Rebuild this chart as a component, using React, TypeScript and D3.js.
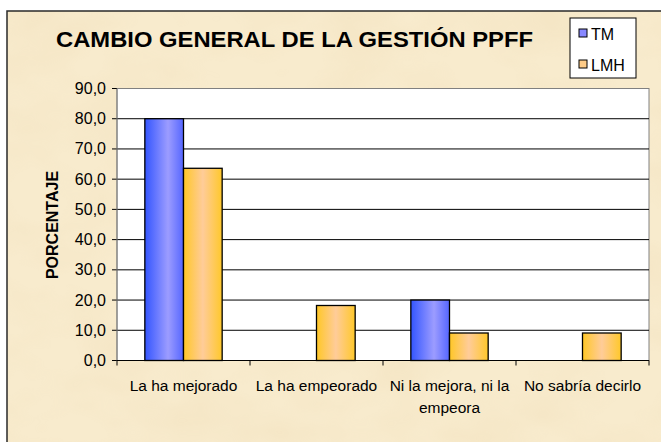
import React from "react";
import * as d3 from "d3";

const categories: string[][] = [
  ["La ha mejorado"],
  ["La ha empeorado"],
  ["Ni la mejora, ni la", "empeora"],
  ["No sabría decirlo"],
];
const seriesNames = ["TM", "LMH"];
const tmValues = [80.0, 0.0, 20.0, 0.0];
const lmhValues = [63.6, 18.2, 9.1, 9.1];
const yTicks = [0, 10, 20, 30, 40, 50, 60, 70, 80, 90];

const W = 661;
const H = 442;
const plot = { left: 117, right: 649, top: 88.5, bottom: 360.5 };

export default function App() {
  const x0 = d3
    .scaleBand<number>()
    .domain(categories.map((_, i) => i))
    .range([plot.left, plot.right])
    .paddingInner(0)
    .paddingOuter(0);
  const x1 = d3
    .scaleBand<string>()
    .domain(seriesNames)
    .range([0, x0.bandwidth()])
    .paddingOuter(0.72)
    .paddingInner(0);
  const y = d3.scaleLinear().domain([0, 90]).range([plot.bottom, plot.top]);
  const series = [tmValues, lmhValues];
  const grads = ["gBlue", "gOrange"];
  const swatch = ["#8888ff", "#ffcc88"];
  const font = "'Liberation Sans', Arial, sans-serif";

  return (
    <svg
      width={W}
      height={H}
      style={{ position: "absolute", left: 0, top: 0 }}
      fontFamily={font}
    >
      <defs>
        <linearGradient id="gBlue" x1="0" x2="1" y1="0" y2="0">
          <stop offset="0" stopColor="#3355ff" />
          <stop offset="0.6" stopColor="#9c9cff" />
          <stop offset="1" stopColor="#5566ff" />
        </linearGradient>
        <linearGradient id="gOrange" x1="0" x2="1" y1="0" y2="0">
          <stop offset="0" stopColor="#ffc726" />
          <stop offset="0.5" stopColor="#ffcc99" />
          <stop offset="1" stopColor="#ffc82a" />
        </linearGradient>
        <filter id="parch" x="0" y="0" width="100%" height="100%">
          <feTurbulence type="fractalNoise" baseFrequency="0.012 0.02" numOctaves="3" seed="4" result="n" />
          <feColorMatrix
            in="n"
            type="matrix"
            values="0 0 0 0 0.85  0 0 0 0 0.70  0 0 0 0 0.45  0 0 0 -1.6 1.0"
          />
        </filter>
        <clipPath id="ytClip">
          <rect x={30} y={164} width={40} height={140} />
        </clipPath>
      </defs>
      <rect x={0} y={0} width={W} height={H} fill="#ffffff" />
      <rect x={7} y={11} width={W} height={H} fill="#f8ebcd" />
      <rect x={7} y={11} width={W} height={H} filter="url(#parch)" opacity={0.35} />
      <rect x={7} y={11} width={W + 10} height={H + 10} fill="none" stroke="#2a2a2a" strokeWidth={1.5} />

      <text x={56} y={47} fontSize={22} fontWeight="bold" fill="#000" textLength={477} lengthAdjust="spacingAndGlyphs">
        CAMBIO GENERAL DE LA GESTIÓN PPFF
      </text>

      {/* plot area */}
      <rect
        x={plot.left}
        y={plot.top}
        width={plot.right - plot.left}
        height={plot.bottom - plot.top}
        fill="#ffffff"
        stroke="#808080"
        strokeWidth={1}
      />
      {yTicks.map((t) => (
        <g key={t}>
          {t > 0 && t < 90 && (
            <line x1={plot.left} x2={plot.right} y1={y(t)} y2={y(t)} stroke="#000" strokeWidth={1} />
          )}
          <line x1={plot.left - 5} x2={plot.left} y1={y(t)} y2={y(t)} stroke="#000" strokeWidth={1} />
          <text x={106} y={y(t) + 5.5} fontSize={16} textAnchor="end" fill="#000">
            {d3.format(".1f")(t).replace(".", ",")}
          </text>
        </g>
      ))}

      {/* bars */}
      {series.map((vals, si) =>
        vals.map((v, ci) =>
          v > 0 ? (
            <rect
              key={`${si}-${ci}`}
              x={(x0(ci) as number) + (x1(seriesNames[si]) as number)}
              y={y(v)}
              width={x1.bandwidth()}
              height={y(0) - y(v)}
              fill={`url(#${grads[si]})`}
              stroke="#000"
              strokeWidth={1.3}
            />
          ) : null
        )
      )}

      {/* axes lines */}
      <line x1={plot.left} x2={plot.left} y1={plot.top} y2={plot.bottom} stroke="#808080" strokeWidth={1} />
      <line x1={plot.left} x2={plot.right} y1={plot.bottom} y2={plot.bottom} stroke="#000" strokeWidth={1} />
      {categories.map((_, i) => (
        <line
          key={i}
          x1={x0(i) as number}
          x2={x0(i) as number}
          y1={plot.bottom}
          y2={plot.bottom + 5}
          stroke="#000"
        />
      ))}
      <line x1={plot.right} x2={plot.right} y1={plot.bottom} y2={plot.bottom + 5} stroke="#000" />

      {categories.map((lines, i) => (
        <text
          key={i}
          x={(x0(i) as number) + x0.bandwidth() / 2}
          y={390.5}
          fontSize={15.5}
          textAnchor="middle"
          fill="#000"
        >
          {lines.map((l, j) => (
            <tspan key={j} x={(x0(i) as number) + x0.bandwidth() / 2} dy={j === 0 ? 0 : 22}>
              {l}
            </tspan>
          ))}
        </text>
      ))}

      <g clipPath="url(#ytClip)">
        <text
          transform={`translate(57.5,225) rotate(-90)`}
          fontSize={16}
          fontWeight="bold"
          textAnchor="middle"
          fill="#000"
        >
          PORCENTAJE
        </text>
      </g>

      {/* legend */}
      <rect x={570} y={18} width={66} height={60} fill="#ffffff" stroke="#000" strokeWidth={1} />
      {seriesNames.map((s, i) => (
        <g key={s}>
          <rect x={579} y={29 + i * 31} width={8} height={8} fill={swatch[i]} stroke="#000" strokeWidth={1} />
          <text x={591} y={39.5 + i * 31} fontSize={16} fill="#000">
            {s}
          </text>
        </g>
      ))}
    </svg>
  );
}
